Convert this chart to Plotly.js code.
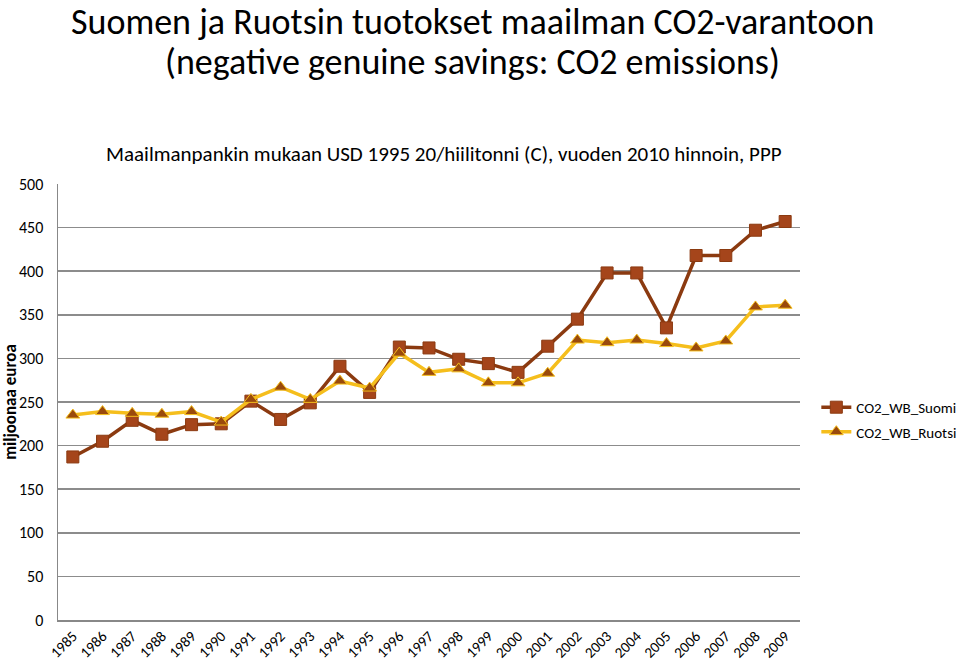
<!DOCTYPE html>
<html><head><meta charset="utf-8">
<script src="https://cdn.plot.ly/plotly-3.0.1.min.js"></script>
<style>html,body{margin:0;padding:0;background:#fff}#chart{width:960px;height:662px}</style>
</head><body><div id="chart"></div>
<script>
const years = ['1985','1986','1987','1988','1989','1990','1991','1992','1993','1994','1995','1996','1997','1998','1999','2000','2001','2002','2003','2004','2005','2006','2007','2008','2009'];
const suomi = [187,205,229,213,224,225,251,230,249,291,261,313,312,299,294,284,314,345,398,398,335,418,418,447,457];
const ruotsi = [235,239,237,236,239,227,253,267,253,274,266,306,284,288,272,272,283,321,318,321,317,312,320,359,361];
const yTicks = [0,50,100,150,200,250,300,350,400,450,500];

const font = 'Calibri, Carlito, Lato, "Open Sans", sans-serif';
const traces = [
  {x: years, y: suomi, name: 'CO2_WB_Suomi', type: 'scatter', mode: 'lines+markers', legendgroup: 'a',
   line: {color: '#8B3A10', width: 3.5},
   marker: {symbol: 'square', size: 12, color: '#A5451B', line: {color: '#8B3A10', width: 1}}},
  {x: years, y: ruotsi, name: 'CO2_WB_Ruotsi', type: 'scatter', mode: 'lines+markers', legendgroup: 'b',
   line: {color: '#F5BE1C', width: 3.5},
   marker: {symbol: 'triangle-up', size: 12, color: '#9A4A0C', line: {color: '#F5BE1C', width: 1}}}
];
const layout = {
  width: 960, height: 662,
  margin: {l: 58, r: 160, t: 184, b: 42, autoexpand: false},
  paper_bgcolor: '#fff', plot_bgcolor: '#fff',
  font: {family: font, color: '#000'},
  showlegend: true,
  legend: {x: 1.022, y: 0.46, xanchor: 'left', yanchor: 'middle', traceorder: 'grouped', tracegroupgap: 2,
           itemwidth: 30, font: {size: 15, family: font}, bgcolor: 'rgba(0,0,0,0)'},
  xaxis: {type: 'category', tickangle: -45, tickfont: {size: 15, family: font}, showgrid: false,
          showline: true, linecolor: '#888', linewidth: 1.5, ticks: '', range: [-0.5, 24.5], fixedrange: true, automargin: false},
  yaxis: {range: [0, 500], tickvals: yTicks, ticktext: yTicks.map(String), tickfont: {size: 16, family: font},
          showgrid: true, gridcolor: '#8c8c8c', gridwidth: 1.5, showline: true, linecolor: '#888', linewidth: 1.5,
          zeroline: false, ticks: '', ticklabelstandoff: 10,
          title: {text: '<b>miljoonaa euroa</b>', font: {size: 17, family: font}, standoff: 8}, automargin: false},
  annotations: [
    {text: 'Suomen ja Ruotsin tuotokset maailman CO2-varantoon',
     xref: 'paper', yref: 'paper', x: 0.558, y: 1, yshift: 162, xanchor: 'center', yanchor: 'middle',
     height: 40, showarrow: false, font: {size: 36, family: font, color: '#000'}},
    {text: '(negative genuine savings: CO2 emissions)',
     xref: 'paper', yref: 'paper', x: 0.558, y: 1, yshift: 122, xanchor: 'center', yanchor: 'middle',
     height: 40, showarrow: false, font: {size: 36, family: font, color: '#000'}},
    {text: 'Maailmanpankin mukaan USD 1995 20/hiilitonni (C), vuoden 2010 hinnoin, PPP',
     xref: 'paper', yref: 'paper', x: 0.52, y: 1, yshift: 45, xanchor: 'center', yanchor: 'top',
     showarrow: false, font: {size: 21, family: font, color: '#000'}}
  ]
};
Plotly.newPlot('chart', traces, layout, {displayModeBar: false, staticPlot: true});
</script></body></html>
